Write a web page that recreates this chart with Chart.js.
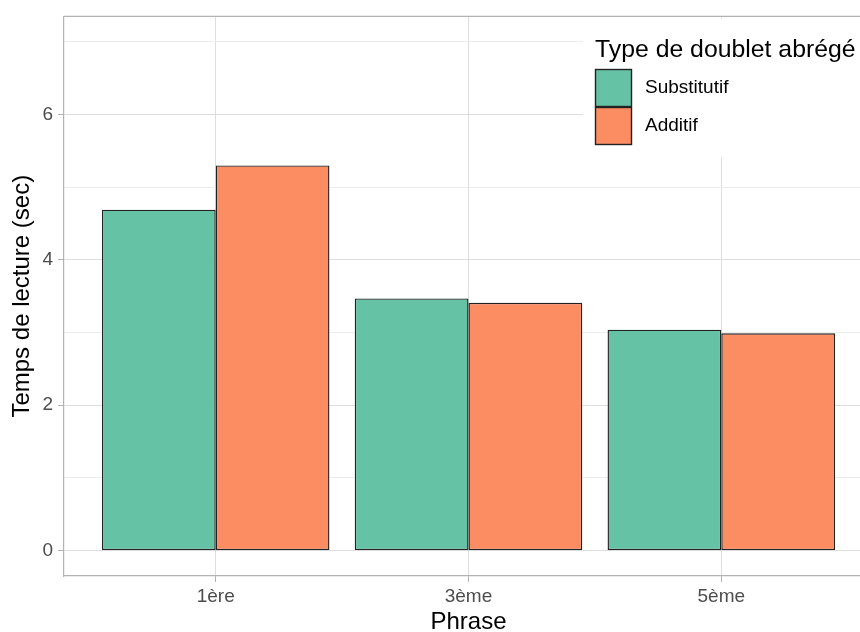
<!DOCTYPE html>
<html><head><meta charset="utf-8">
<script src="https://cdn.jsdelivr.net/npm/chart.js@4/dist/chart.umd.min.js"></script>
<style>
html,body{margin:0;padding:0;overflow:hidden;background:#fff;width:860px;height:632px}
#wrap{position:relative;width:900px;height:632px}
</style></head>
<body><div id="wrap"><canvas id="c"></canvas></div>
<script>
const categories = ['1ère', '3ème', '5ème'];
const seriesNames = ['Substitutif', 'Additif'];
const substitutif = [4.69, 3.47, 3.04];
const additif = [5.30, 3.41, 2.99];
const yTickValues = [0, 1, 2, 3, 4, 5, 6, 7];
const legendTitle = 'Type de doublet abrégé';
const xTitle = 'Phrase';
const yTitle = 'Temps de lecture (sec)';
const colors = ['#66C2A5', '#FC8D62'];

const FONT = "'Liberation Sans', Arial, sans-serif";

const toPoints = arr => categories.map((c, i) => ({ x: i + 1, y: arr[i] }));

const panelBorder = {
  id: 'panelBorder',
  afterDatasetsDraw(chart) {
    const { ctx, chartArea: a } = chart;
    ctx.save();
    ctx.strokeStyle = '#b3b3b3';
    ctx.lineWidth = 1.2;
    ctx.beginPath();
    ctx.moveTo(a.left, a.top);
    ctx.lineTo(a.right, a.top);
    ctx.lineTo(a.right, a.bottom);
    ctx.stroke();
    ctx.restore();
  }
};

const insideLegend = {
  id: 'insideLegend',
  afterDraw(chart) {
    const { ctx } = chart;
    const x0 = 583, y0 = 19;
    ctx.save();
    ctx.fillStyle = '#ffffff';
    ctx.fillRect(x0, y0, 320, 138);
    ctx.fillStyle = '#000000';
    ctx.font = '24.8px ' + FONT;
    ctx.textAlign = 'left';
    ctx.textBaseline = 'alphabetic';
    ctx.fillText(legendTitle, 595, 57);
    chart.data.datasets.forEach((ds, i) => {
      const ky = 69 + i * 38;
      ctx.fillStyle = ds.backgroundColor;
      ctx.fillRect(595, ky, 37, 38);
      ctx.strokeStyle = '#222222';
      ctx.lineWidth = 1.4;
      ctx.strokeRect(595.5, ky + 0.5, 36, 37);
      ctx.fillStyle = '#000000';
      ctx.font = '19px ' + FONT;
      ctx.textBaseline = 'middle';
      ctx.fillText(ds.label, 645, ky + 19);
    });
    ctx.restore();
  }
};

new Chart(document.getElementById('c'), {
  type: 'bar',
  data: {
    datasets: [
      { label: seriesNames[0], data: toPoints(substitutif), backgroundColor: colors[0] },
      { label: seriesNames[1], data: toPoints(additif), backgroundColor: colors[1] }
    ].map(d => Object.assign(d, {
      borderColor: '#222222', borderWidth: 1.4, borderSkipped: false,
      categoryPercentage: 0.9, barPercentage: 1.0
    }))
  },
  options: {
    responsive: true,
    maintainAspectRatio: false,
    animation: false,
    layout: { padding: { top: 16, right: 27, bottom: 0, left: 0 } },
    plugins: { legend: { display: false }, tooltip: { enabled: false } },
    scales: {
      x: {
        type: 'linear', min: 0.4, max: 3.6, offset: false,
        afterBuildTicks: s => { s.ticks = categories.map((c, i) => ({ value: i + 1 })); },
        afterFit: s => { s.height = 56; },
        ticks: {
          callback: v => categories[Math.round(v) - 1],
          color: '#4d4d4d', font: { family: FONT, size: 19 }, padding: 3,
          maxRotation: 0, autoSkip: false
        },
        grid: { offset: false, color: '#dedede', lineWidth: 1, tickColor: '#b3b3b3', tickLength: 6 },
        border: { color: '#b3b3b3', width: 1.2 },
        title: { display: true, text: xTitle, color: '#000', font: { family: FONT, size: 24, lineHeight: '20px' }, padding: { top: 0, bottom: 0 } }
      },
      y: {
        type: 'linear', min: -0.35, max: 7.35,
        afterBuildTicks: s => { s.ticks = yTickValues.map(v => ({ value: v })); },
        afterFit: s => { s.width = 64; },
        ticks: {
          callback: v => (v % 2 === 0 ? String(v) : ''),
          color: '#4d4d4d', font: { family: FONT, size: 19 }, padding: 5
        },
        grid: {
          color: c => (c.tick && c.tick.value % 2 === 0 ? '#dedede' : '#ececec'),
          lineWidth: 1,
          tickColor: c => (c.tick && c.tick.value % 2 === 0 ? '#b3b3b3' : 'rgba(0,0,0,0)'),
          tickLength: 6
        },
        border: { color: '#b3b3b3', width: 1.2 },
        title: { display: true, text: yTitle, color: '#000', font: { family: FONT, size: 24, lineHeight: '24px' }, padding: { top: 10, bottom: 0 } }
      }
    }
  },
  plugins: [panelBorder, insideLegend]
});
</script>
</body></html>
